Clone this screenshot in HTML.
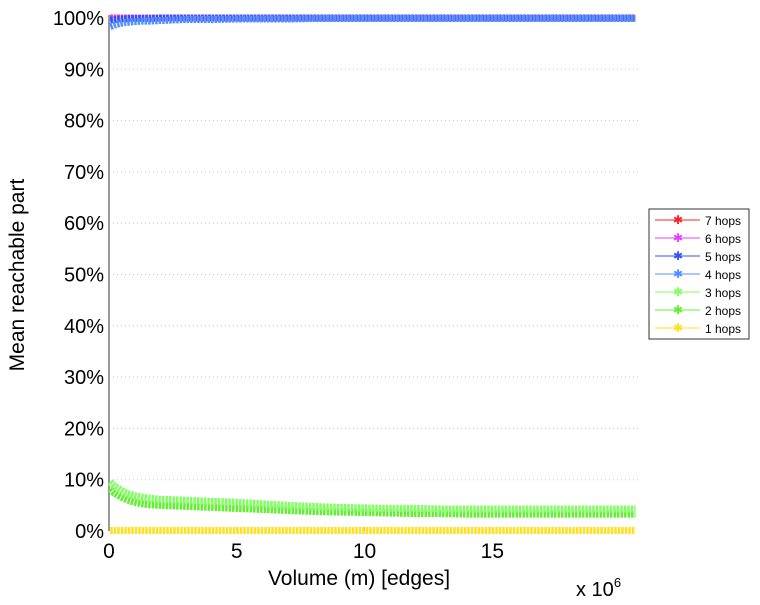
<!DOCTYPE html>
<html><head><meta charset="utf-8"><style>
body{margin:0;background:#fff;font-family:"Liberation Sans",sans-serif}
</style></head><body>
<svg id="chart" width="760" height="600" viewBox="0 0 760 600" xmlns="http://www.w3.org/2000/svg" font-family="Liberation Sans, sans-serif"></svg>
<script>
const xs = [0.05,0.2,0.4,0.6,0.8,1.0,1.3,1.6,2,2.5,3,3.5,4,5,6,7,8,9,10,11,12,13,14,15,16,17,18,19,20.6];
const hops7 = [100,100,100,100,100,100,100,100,100,100,100,100,100,100,100,100,100,100,100,100,100,100,100,100,100,100,100,100,100];
const hops6 = [99.9,99.9,100,100,100,100,100,100,100,100,100,100,100,100,100,100,100,100,100,100,100,100,100,100,100,100,100,100,100];
const hops5 = [99.6,99.7,99.8,99.8,99.9,99.9,99.9,99.9,100,100,100,100,100,100,100,100,100,100,100,100,100,100,100,100,100,100,100,100,100];
const hops4 = [98.3,98.6,98.9,99.1,99.2,99.3,99.4,99.4,99.5,99.6,99.7,99.7,99.7,99.8,99.8,99.8,99.9,99.9,99.9,99.9,99.9,99.9,99.9,99.9,99.9,99.9,99.9,99.9,99.9];
const hops3 = [9.6,8.8,8.2,7.6,7.2,6.9,6.6,6.4,6.2,6.1,6.0,5.9,5.8,5.6,5.3,5.0,4.8,4.6,4.5,4.4,4.4,4.3,4.3,4.3,4.3,4.3,4.3,4.3,4.3];
const hops2 = [8.2,7.4,6.8,6.3,5.9,5.6,5.3,5.1,5.0,4.9,4.8,4.7,4.6,4.4,4.2,4.0,3.8,3.7,3.6,3.5,3.4,3.4,3.3,3.3,3.3,3.3,3.3,3.3,3.3];
const hops1 = [0.1,0.1,0.1,0.1,0.1,0.1,0.1,0.1,0.1,0.1,0.1,0.1,0.1,0.1,0.1,0.1,0.1,0.1,0.1,0.1,0.1,0.1,0.1,0.1,0.1,0.1,0.1,0.1,0.1];
const seriesNames = ["7 hops","6 hops","5 hops","4 hops","3 hops","2 hops","1 hops"];
const seriesColors = ["#ff2020","#e040ff","#3050ff","#5090ff","#80ff60","#60f030","#ffe020"];
const yTicks = [0,10,20,30,40,50,60,70,80,90,100];
const xTicks = [0,5,10,15];

const NS="http://www.w3.org/2000/svg";
const svg=document.getElementById('chart');
const L=109,R=638,T=18,B=531,XMAX=20.7;
const sx=v=>L+v/XMAX*(R-L);
const sy=v=>B-v/100*(B-T);
function mk(tag,attrs,parent){const e=document.createElementNS(NS,tag);for(const k in attrs)e.setAttribute(k,attrs[k]);(parent||svg).appendChild(e);return e;}

yTicks.forEach(t=>{
  if(t>0&&t<100){const g=mk('line',{x1:L,x2:R,y1:sy(t),y2:sy(t),stroke:'#c8c8c8','stroke-dasharray':'1,3'});
  
  }
  const tx=mk('text',{x:L-5,y:sy(t)+7,'text-anchor':'end','font-size':20,fill:'#000'});
  tx.textContent=t+'%';
  
  
});
xTicks.forEach(t=>{
  const tk=mk('line',{x1:sx(t),x2:sx(t),y1:B,y2:B-4,stroke:'#888'});
  
  
  const tx=mk('text',{x:sx(t),y:B+27,'text-anchor':'middle','font-size':21,fill:'#000'});
  tx.textContent=t;
  
  
});
const ax=mk('line',{x1:L,x2:L,y1:T-3,y2:B,stroke:'#999','stroke-width':2});



const all=[hops7,hops6,hops5,hops4,hops3,hops2,hops1];
const order=[0,1,2,3,6,5,4];
order.forEach(s=>{
  const vals=all[s];
  const pts=xs.map((x,i)=>sx(x)+','+sy(vals[i])).join(' ');
  const pl=mk('polyline',{points:pts,fill:'none',stroke:seriesColors[s],'stroke-width':7,'stroke-dasharray':'2.5,1','stroke-linejoin':'round'});
  
  
});

const tl=mk('text',{x:359,y:585,'text-anchor':'middle','font-size':21});
tl.textContent='Volume (m) [edges]';


const sc=mk('text',{x:576,y:596,'font-size':20});
sc.innerHTML='x 10<tspan dy="-9" font-size="13">6</tspan>';


const yl=mk('text',{x:0,y:0,'text-anchor':'middle','font-size':21,transform:'translate(24,275) rotate(-90)'});
yl.textContent='Mean reachable part';



const lg=mk('g',{});


mk('rect',{x:649,y:209,width:100,height:130,fill:'#fff',stroke:'#333','stroke-width':1},lg);
seriesNames.forEach((n,i)=>{
  const y=220+i*18;
  const e=mk('g',{},lg);
  
  
  mk('line',{x1:655,x2:700,y1:y,y2:y,stroke:seriesColors[i],'stroke-width':1},e);
  mk('text',{x:678,y:y+4,'text-anchor':'middle','font-size':12,fill:seriesColors[i]},e).textContent='✱';
  const t=mk('text',{x:705,y:y+5,'font-size':12},e);t.textContent=n;
});
</script>
</body></html>
